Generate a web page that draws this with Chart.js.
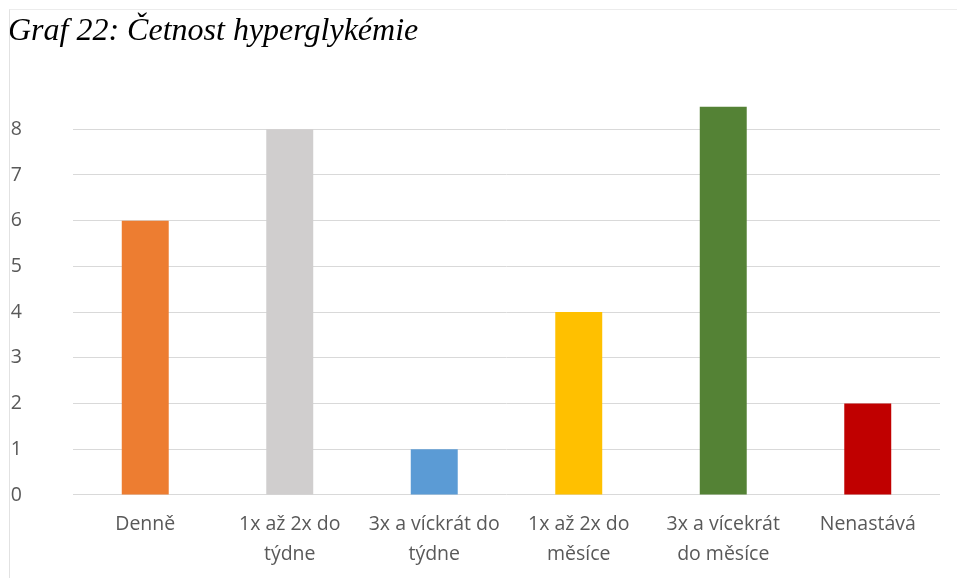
<!DOCTYPE html>
<html>
<head>
<meta charset="utf-8">
<script src="https://cdn.jsdelivr.net/npm/chart.js@4"></script>
<style>
  html, body { margin: 0; padding: 0; background: #ffffff; }
  #wrap { position: relative; width: 957px; height: 578px; }
  #frame { position: absolute; left: 9px; top: 9px; right: 0; bottom: 0;
           border-left: 1px solid #e2e2e2; border-top: 1px solid #ececec; pointer-events: none; }
  canvas { position: absolute; left: 0; top: 0; }
</style>
</head>
<body>
<div id="wrap">
  <canvas id="c" width="957" height="578"></canvas>
  <div id="frame"></div>
</div>
<script>
const categories = [
  ['Denně'],
  ['1x až 2x do', 'týdne'],
  ['3x a víckrát do', 'týdne'],
  ['1x až 2x do', 'měsíce'],
  ['3x a vícekrát', 'do měsíce'],
  ['Nenastává']
];
const counts = [6, 8, 1, 4, 8.5, 2];
const barColors = ['#ED7D31', '#D0CECE', '#5B9BD5', '#FFC000', '#548235', '#C00000'];
const yTicks = [0, 1, 2, 3, 4, 5, 6, 7, 8];

const labelFont = { family: "'Open Sans', 'Noto Sans', sans-serif", size: 19.5 };

new Chart(document.getElementById('c'), {
  type: 'bar',
  data: {
    labels: categories,
    datasets: [{
      data: counts,
      backgroundColor: barColors,
      borderWidth: 0,
      barPercentage: 1,
      categoryPercentage: 0.325
    }]
  },
  options: {
    responsive: false,
    animation: false,
    layout: { padding: { left: 8, right: 17, top: 0, bottom: 3 } },
    plugins: {
      legend: { display: false },
      tooltip: { enabled: false },
      title: {
        display: true,
        text: 'Graf 22: Četnost hyperglykémie',
        align: 'start',
        color: '#000000',
        font: { family: "'Liberation Serif', 'Times New Roman', serif", size: 32, style: 'italic', weight: 'normal', lineHeight: 1.2 },
        padding: { top: 12, bottom: 56 }
      }
    },
    scales: {
      x: {
        grid: { display: false },
        border: { display: false },
        ticks: {
          color: '#595959',
          font: { ...labelFont, lineHeight: 1.54 },
          maxRotation: 0,
          autoSkip: false,
          padding: 6
        }
      },
      y: {
        min: 0,
        max: 8.5,
        afterFit: (scale) => { scale.width = 65; },
        afterBuildTicks: (scale) => { scale.ticks = yTicks.map(v => ({ value: v })); },
        grid: { color: '#D9D9D9', lineWidth: 1, drawTicks: false },
        border: { display: false },
        ticks: {
          color: '#595959',
          font: labelFont,
          padding: 51
        }
      }
    }
  }
});
</script>
</body>
</html>
